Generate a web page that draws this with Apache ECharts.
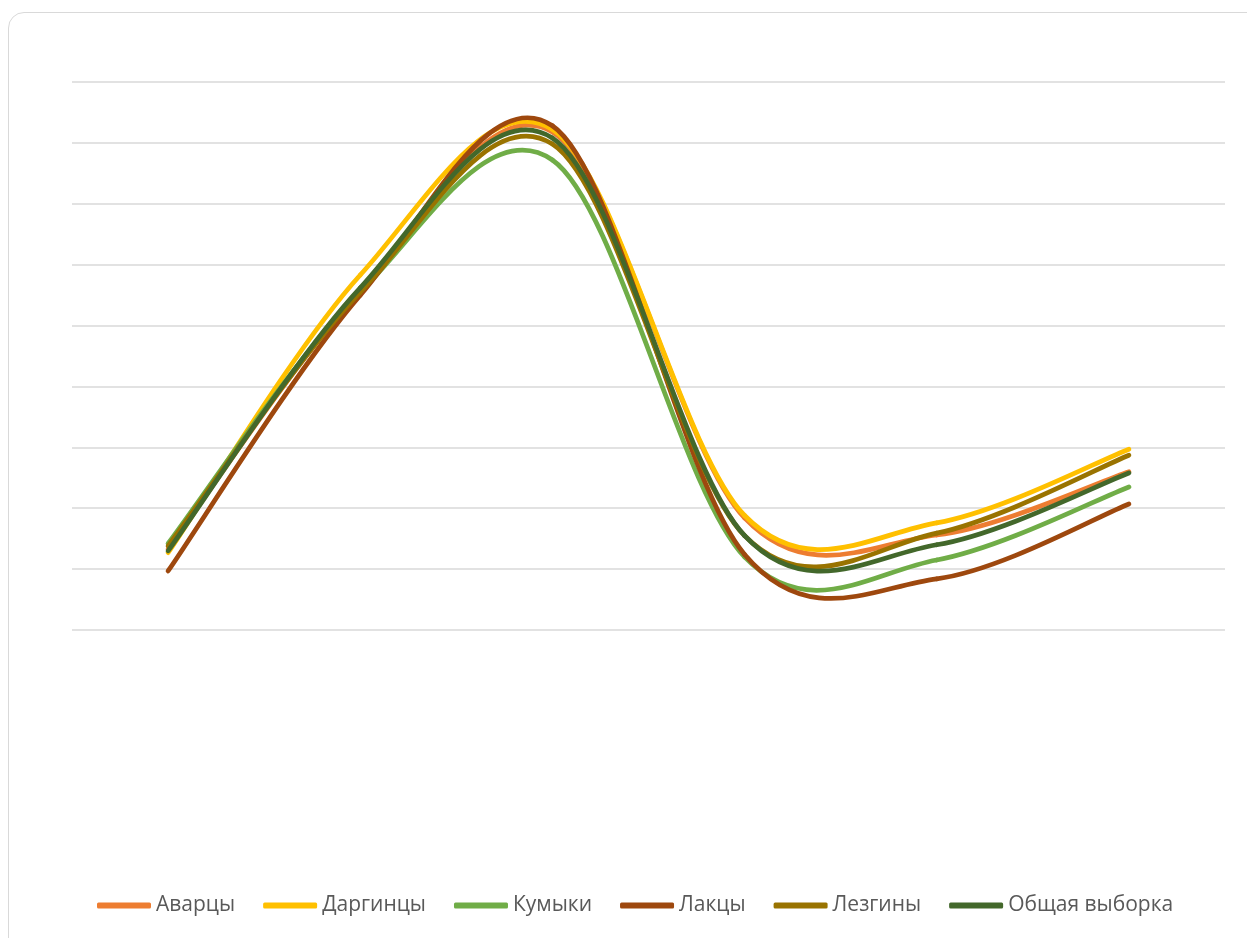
<!DOCTYPE html>
<html>
<head>
<meta charset="utf-8">
<script src="https://cdn.jsdelivr.net/npm/echarts@6/dist/echarts.min.js"></script>
<style>
  html, body { margin: 0; padding: 0; background: #fff; overflow: hidden; }
  #card { position: absolute; left: 8px; top: 12px; width: 1270px; height: 960px;
          border: 1.5px solid #d9d9d9; border-radius: 16px; box-sizing: border-box; }
  #chart { position: absolute; left: 0; top: 0; width: 1247px; height: 938px; }
</style>
</head>
<body>
<div id="card"></div>
<div id="chart"></div>
<script>
const categories = ['1', '2', '3', '4', '5', '6'];
const avartsy   = [1.33, 5.58, 8.18, 1.84, 1.56, 2.60];
const dargintsy = [1.27, 5.83, 8.22, 1.88, 1.76, 2.97];
const kumyki    = [1.42, 5.55, 7.72, 1.20, 1.15, 2.35];
const laktsy    = [0.97, 5.50, 8.28, 1.24, 0.84, 2.07];
const lezginy   = [1.38, 5.55, 7.98, 1.55, 1.59, 2.87];
const obshaya   = [1.30, 5.62, 8.08, 1.55, 1.40, 2.58];

const seriesNames = ['Аварцы', 'Даргинцы', 'Кумыки', 'Лакцы', 'Лезгины', 'Общая выборка'];
const seriesData = [avartsy, dargintsy, kumyki, laktsy, lezginy, obshaya];
const colors = ['#ED7D31', '#FFC000', '#70AD47', '#9E480E', '#997300', '#43682B'];

// Excel-like smoothing: Catmull-Rom segments between consecutive points,
// positions obtained from the chart's own axes via api.coord.
function makeRenderItem(values, color) {
  return function (params, api) {
    const i = params.dataIndex;
    const n = values.length;
    if (i >= n - 1) return null;
    const pt = (j) => {
      const k = Math.max(0, Math.min(n - 1, j));
      return api.coord([k, values[k]]);
    };
    const p0 = pt(i - 1), p1 = pt(i), p2 = pt(i + 1), p3 = pt(i + 2);
    return {
      type: 'bezierCurve',
      shape: {
        x1: p1[0], y1: p1[1],
        x2: p2[0], y2: p2[1],
        cpx1: p1[0] + (p2[0] - p0[0]) / 6, cpy1: p1[1] + (p2[1] - p0[1]) / 6,
        cpx2: p2[0] - (p3[0] - p1[0]) / 6, cpy2: p2[1] - (p3[1] - p1[1]) / 6
      },
      style: { stroke: color, lineWidth: 4.75, fill: null, lineCap: 'round', lineJoin: 'round' },
      silent: true
    };
  };
}

const chart = echarts.init(document.getElementById('chart'), null, { renderer: 'canvas' });
chart.setOption({
  animation: false,
  color: colors,
  grid: { left: 72, right: 22, top: 82, bottom: 308, containLabel: false },
  legend: {
    bottom: 17,
    left: 92,
    icon: 'roundRect',
    itemWidth: 54,
    itemHeight: 6,
    itemGap: 28,
    textStyle: { fontFamily: 'Open Sans', fontSize: 21, color: '#595959' },
    data: seriesNames
  },
  xAxis: {
    type: 'category',
    data: categories,
    boundaryGap: true,
    axisLine: { show: false },
    axisTick: { show: false },
    axisLabel: { show: false }
  },
  yAxis: {
    type: 'value',
    min: 0, max: 9, interval: 1,
    axisLabel: { show: false },
    axisLine: { show: false },
    axisTick: { show: false },
    splitLine: { lineStyle: { color: '#D9D9D9', width: 1.5 } }
  },
  series: seriesNames.map((name, i) => ({
    name: name,
    type: 'custom',
    coordinateSystem: 'cartesian2d',
    data: seriesData[i].map((v, k) => [k, v]),
    encode: { x: 0, y: 1 },
    itemStyle: { color: colors[i] },
    renderItem: makeRenderItem(seriesData[i], colors[i])
  }))
});
</script>
</body>
</html>
